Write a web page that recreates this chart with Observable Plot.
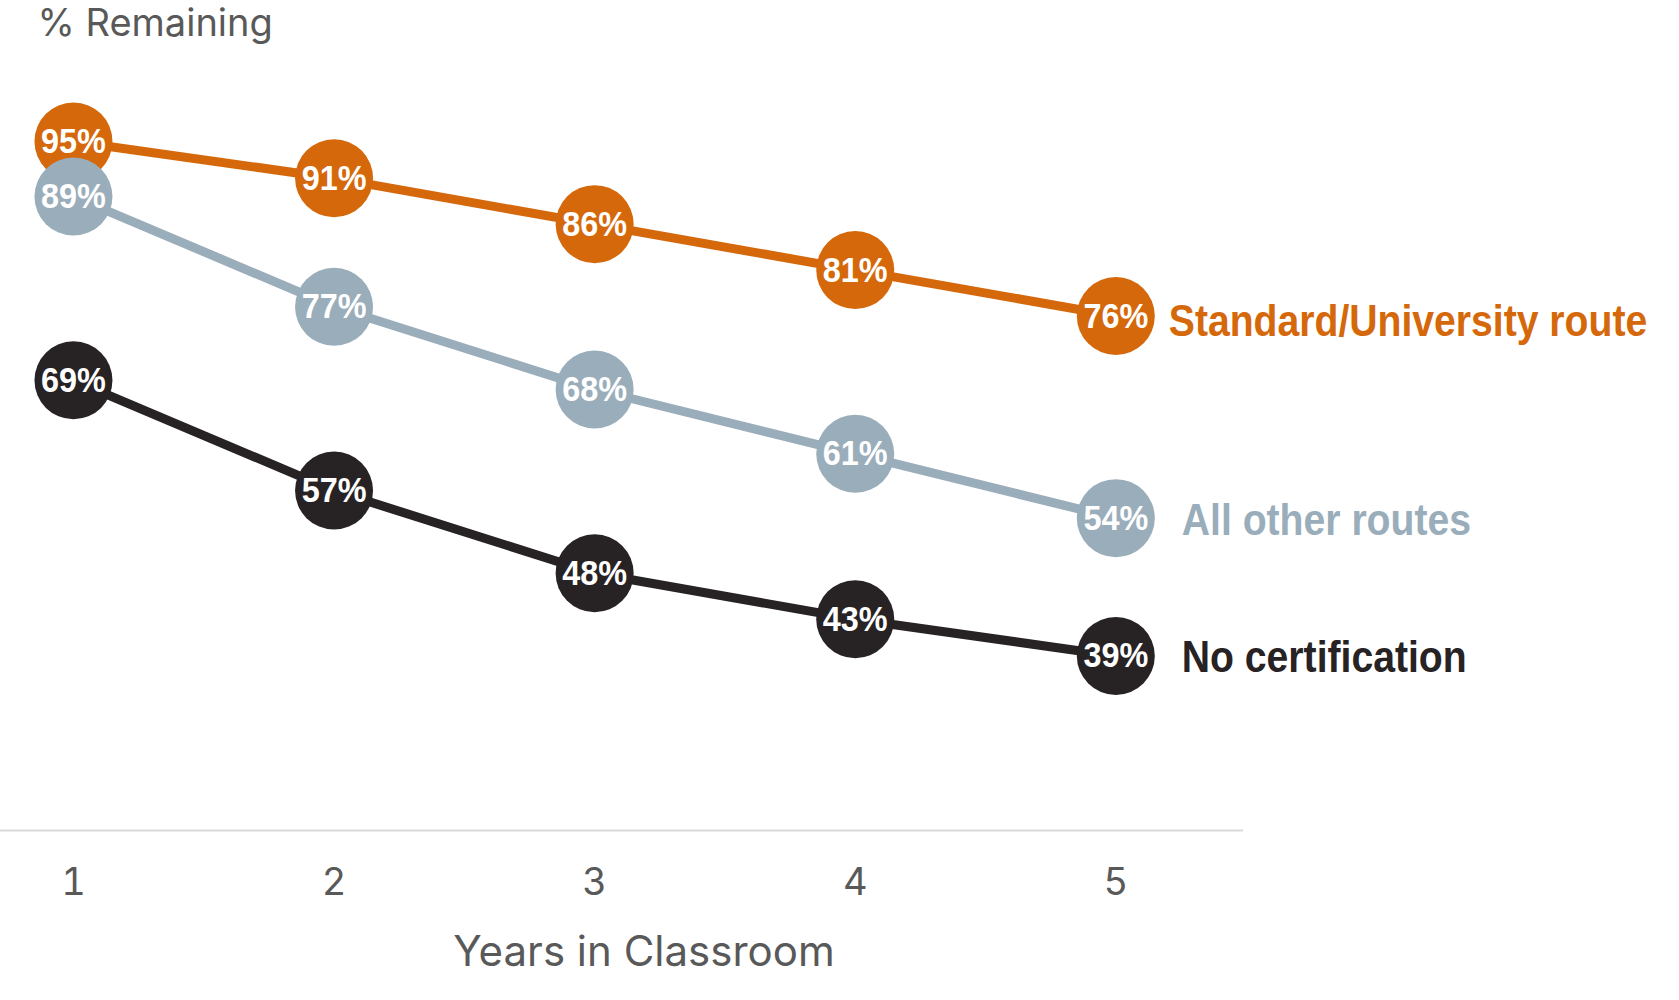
<!DOCTYPE html>
<html><head><meta charset="utf-8">
<script src="https://cdn.jsdelivr.net/npm/d3@7"></script>
<script src="https://cdn.jsdelivr.net/npm/@observablehq/plot@0.6"></script>
<style>body{margin:0;background:#fff}</style>
</head><body><div id="chart"></div>
<script>
const years = [1, 2, 3, 4, 5];
const seriesNames = ["Standard/University route", "All other routes", "No certification"];
const standardRoute = [95, 91, 86, 81, 76];
const otherRoutes = [89, 77, 68, 61, 54];
const noCertification = [69, 57, 48, 43, 39];
const seriesColors = ["#D5680B", "#9AADBA", "#272223"];
const xTicks = [1, 2, 3, 4, 5];
const yTitle = "% Remaining";
const xTitle = "Years in Classroom";

const seriesValues = [standardRoute, otherRoutes, noCertification];
const rows = [];
seriesNames.forEach((name, i) => {
  years.forEach((yr, j) => rows.push({series: name, year: yr, value: seriesValues[i][j]}));
});
const lastYear = years[years.length - 1];
const lastRows = rows.filter(d => d.year === lastYear);

const labelFont = "'Liberation Sans Narrow', 'Liberation Sans', Arial, sans-serif";

const chart = Plot.plot({
  width: 1679,
  height: 1000,
  marginLeft: 0,
  marginRight: 436,
  marginTop: 95,
  marginBottom: 170,
  style: {fontFamily: "Inter, 'Liberation Sans', sans-serif", background: "#fff"},
  x: {domain: [0.72, 5.49], axis: null},
  y: {domain: [20, 100], axis: null},
  color: {domain: seriesNames, range: seriesColors},
  marks: [
    Plot.ruleY([20], {stroke: "#D9D9D9", strokeWidth: 2}),
    Plot.axisX({ticks: xTicks, tickSize: 0, tickPadding: 38, fontSize: 38, fill: "#595959", label: null, tickFormat: d => String(d)}),
    Plot.text([xTitle], {frameAnchor: "bottom", dx: 22, dy: 135, fontSize: 42, fill: "#595959"}),
    Plot.text([yTitle], {frameAnchor: "top-left", textAnchor: "start", dx: 37, dy: -86, fontSize: 38, fill: "#595959"}),
    Plot.line(rows, {x: "year", y: "value", z: "series", stroke: "series", strokeWidth: 9}),
    Plot.dot(rows, {x: "year", y: "value", fill: "series", r: 39}),
    Plot.text(rows, {x: "year", y: "value", text: d => d.value + "%", fill: "white", fontSize: 36, fontWeight: "bold", fontFamily: labelFont}),
    Plot.text(lastRows.filter(d => d.series === seriesNames[0]), {x: "year", y: "value", text: "series", fill: "series", textAnchor: "start", dx: 53, dy: 6, fontSize: 45, fontWeight: "bold", fontFamily: labelFont}),
    Plot.text(lastRows.filter(d => d.series !== seriesNames[0]), {x: "year", y: "value", text: "series", fill: "series", textAnchor: "start", dx: 66, dy: 2, fontSize: 45, fontWeight: "bold", fontFamily: labelFont})
  ]
});
document.getElementById("chart").append(chart);

// Condensed look for the bold labels (no condensed font installed): horizontal squeeze about each text's anchor
chart.querySelectorAll("text").forEach(t => {
  const s = t.textContent;
  let f = 0;
  if (/^\d+%$/.test(s)) f = 0.9;
  else if (seriesNames.includes(s)) f = 0.87;
  if (f) {
    const ax = +(t.getAttribute("x") || 0);
    const tr = t.getAttribute("transform") || "";
    t.setAttribute("transform", `${tr} translate(${ax},0) scale(${f},1) translate(${-ax},0)`.trim());
  }
});
</script>
</body></html>
